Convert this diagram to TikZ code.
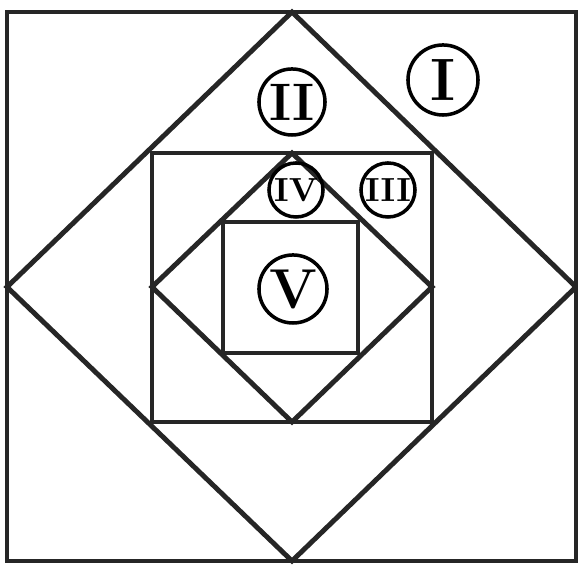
\documentclass[tikz,border=0pt]{standalone}
\begin{document}
\begin{tikzpicture}[x=0.01cm, y=-0.01cm,
    frame/.style={line width=1.4pt, black!85},
    tag/.style={circle, draw, line width=1pt, inner sep=0pt},
  ]
  \useasboundingbox (0,0) rectangle (578,571);
  % outer square
  \draw[frame] (7,12) rectangle (576,561);
  % first diamond
  \coordinate (dt) at (292,12);   \coordinate (dr) at (576,287);
  \coordinate (db) at (292,561);  \coordinate (dl) at (7,287);
  \draw[frame] (dt) -- (dr) -- (db) -- (dl) -- cycle;
  % middle square
  \draw[frame] (152,153) rectangle (432,422);
  % inner diamond
  \coordinate (it) at (292,153);  \coordinate (ir) at (432,287);
  \coordinate (ib) at (292,422);  \coordinate (il) at (152,287);
  \draw[frame] (it) -- (ir) -- (ib) -- (il) -- cycle;
  % inner square
  \draw[frame] (223,222) rectangle (358,353);
  % region labels
  \node[tag, minimum size=0.70cm, font=\fontsize{17}{17}\selectfont\bfseries] (one) at (443,80) {I};
  \node[tag, minimum size=0.66cm, font=\fontsize{15}{15}\selectfont\bfseries] (two) at (292,102) {II};
  \node[tag, minimum size=0.54cm, font=\fontsize{9.5}{10}\selectfont\bfseries] (three) at (388,190) {III};
  \node[tag, minimum size=0.54cm, font=\fontsize{9.5}{10}\selectfont\bfseries] (four) at (296,190) {IV};
  \node[tag, minimum size=0.68cm, font=\fontsize{16}{16}\selectfont\bfseries] (five) at (293,289) {V};
\end{tikzpicture}
\end{document}
